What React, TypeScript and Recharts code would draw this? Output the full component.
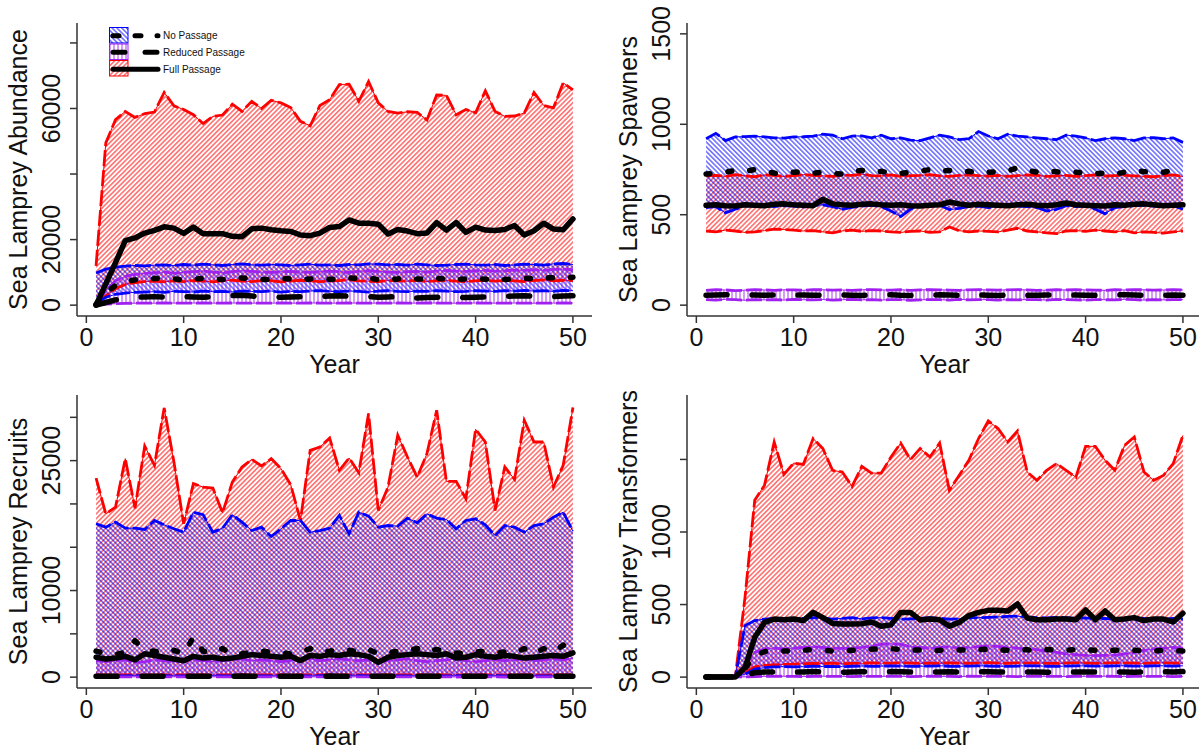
import React from "react";
import { ComposedChart, Area, Line, XAxis, YAxis } from "recharts";

const FONT = '"Liberation Sans", Arial, sans-serif';

const YEARS = [1, 2, 3, 4, 5, 6, 7, 8, 9, 10, 11, 12, 13, 14, 15, 16, 17, 18, 19, 20, 21, 22, 23, 24, 25, 26, 27, 28, 29, 30, 31, 32, 33, 34, 35, 36, 37, 38, 39, 40, 41, 42, 43, 44, 45, 46, 47, 48, 49, 50];
const X_TICKS = [0, 10, 20, 30, 40, 50];

// abundance
const abundFullHi = [12000, 49500, 56600, 59100, 57300, 58400, 58900, 64900, 60800, 59700, 58100, 55400, 57600, 58000, 61300, 59100, 62200, 60000, 62500, 61700, 60300, 56100, 54700, 60900, 62700, 67300, 67400, 62200, 68200, 61700, 59100, 58600, 59000, 58800, 56500, 64100, 64000, 58100, 59700, 58700, 65400, 59100, 57600, 57700, 58600, 64900, 60900, 60200, 67800, 65700];
const abundFullLo = [500, 2800, 5000, 6300, 6900, 7200, 7300, 7100, 7400, 7200, 7500, 7300, 7100, 7400, 7600, 7300, 7200, 7500, 7400, 7100, 7300, 7600, 7400, 7200, 7300, 7500, 7700, 7400, 7300, 7200, 7500, 7400, 7300, 7600, 7200, 7400, 7500, 7300, 7200, 7400, 7600, 7300, 7500, 7400, 7200, 7500, 7700, 7400, 7600, 7500];
const abundFullMed = [0, 6500, 13000, 19700, 20500, 22000, 22800, 23900, 23500, 21900, 23800, 21800, 21800, 21800, 21000, 20900, 23300, 23500, 23000, 22700, 22500, 21400, 21200, 22000, 23700, 24000, 26000, 25000, 25000, 24700, 21700, 23100, 22600, 21800, 22000, 25200, 22900, 25200, 22200, 23800, 22900, 22800, 23100, 24300, 21400, 22700, 25000, 23200, 23000, 26300];
const abundNoHi = [9800, 11000, 11600, 11900, 12100, 12000, 12200, 12300, 12100, 12400, 12200, 12500, 12300, 12100, 12400, 12600, 12300, 12200, 12400, 12300, 12100, 12300, 12500, 12200, 12300, 12100, 12400, 12300, 12600, 12500, 12300, 12400, 12200, 12500, 12300, 12100, 12200, 12400, 12500, 12300, 12200, 12400, 12100, 12300, 12500, 12400, 12200, 12600, 12700, 12400];
const abundNoLo = [600, 2400, 3300, 3700, 3900, 4000, 4100, 3900, 4200, 4100, 4000, 4300, 4100, 4200, 4000, 4300, 4200, 4100, 4300, 4000, 4200, 4100, 4300, 4400, 4200, 4100, 4300, 4200, 4000, 4300, 4400, 4200, 4100, 4300, 4200, 4400, 4300, 4100, 4200, 4400, 4300, 4200, 4400, 4300, 4500, 4300, 4400, 4200, 4500, 4400];
const abundNoMed = [300, 3800, 6000, 7200, 7700, 7900, 8100, 8300, 8000, 7700, 7900, 8200, 8000, 7800, 8100, 8300, 8000, 7800, 7900, 8100, 8000, 7800, 8000, 8200, 7900, 8000, 8300, 8100, 8200, 7800, 7700, 8000, 8200, 8000, 7900, 8200, 8000, 7800, 8000, 8100, 7900, 8000, 7800, 8000, 8200, 8100, 8300, 8400, 8200, 8500];
const abundRedHi = [400, 4500, 7500, 8800, 9400, 9700, 9900, 10100, 9800, 10000, 10200, 10400, 10100, 9900, 10200, 10500, 10300, 10100, 10000, 10200, 10300, 10100, 10000, 10200, 10400, 10200, 10000, 10300, 10500, 10300, 10100, 10000, 10200, 10300, 10100, 10400, 10600, 10400, 10300, 10500, 10600, 10400, 10500, 10700, 10600, 10800, 10600, 10900, 11000, 10800];
const abundRedLo = [0, 300, 450, 550, 600, 620, 600, 650, 630, 600, 640, 660, 620, 600, 650, 630, 610, 640, 620, 650, 600, 630, 660, 640, 610, 620, 650, 630, 600, 640, 620, 650, 610, 630, 660, 640, 620, 600, 630, 650, 640, 610, 620, 650, 630, 600, 640, 620, 650, 630];
const abundRedMed = [0, 800, 1600, 2100, 2400, 2500, 2600, 2500, 2400, 2600, 2500, 2400, 2600, 2700, 2900, 3000, 2800, 2500, 2600, 2400, 2500, 2600, 2400, 2600, 2800, 2900, 2700, 2500, 2600, 2400, 2500, 2600, 2300, 2200, 2300, 2400, 2500, 2400, 2300, 2400, 2500, 2600, 2700, 2800, 2900, 2700, 2500, 2600, 2800, 2900];

// spawners
const spawnNoHi = [920, 950, 910, 930, 932, 935, 930, 925, 924, 930, 931, 935, 945, 940, 920, 935, 936, 925, 940, 920, 925, 912, 910, 925, 940, 930, 915, 920, 960, 935, 920, 945, 935, 930, 925, 920, 915, 940, 935, 925, 910, 920, 925, 920, 910, 925, 926, 920, 925, 900];
const spawnNoLo = [540, 545, 510, 530, 550, 548, 552, 545, 550, 548, 542, 550, 555, 545, 530, 540, 548, 552, 545, 520, 490, 530, 548, 545, 552, 528, 535, 545, 548, 540, 545, 550, 548, 545, 540, 520, 530, 550, 545, 548, 530, 505, 540, 545, 550, 552, 548, 545, 550, 530];
const spawnNoMed = [725, 730, 735, 745, 740, 750, 742, 730, 728, 735, 738, 730, 735, 728, 725, 740, 745, 735, 740, 730, 728, 735, 740, 750, 740, 745, 735, 740, 730, 735, 738, 742, 760, 745, 735, 740, 738, 730, 735, 730, 728, 730, 725, 735, 745, 738, 732, 735, 745, 740];
const spawnFullHi = [715, 718, 712, 722, 715, 710, 720, 718, 712, 716, 722, 718, 715, 712, 720, 718, 725, 716, 715, 720, 712, 716, 718, 722, 715, 712, 718, 720, 716, 714, 718, 712, 716, 720, 718, 712, 715, 718, 712, 716, 720, 714, 716, 718, 715, 712, 710, 716, 720, 712];
const spawnFullLo = [410, 405, 415, 410, 402, 405, 412, 420, 418, 415, 410, 412, 405, 400, 410, 415, 408, 412, 410, 405, 402, 408, 410, 402, 405, 432, 412, 405, 410, 408, 405, 415, 425, 410, 405, 400, 395, 410, 412, 408, 415, 410, 405, 412, 400, 405, 402, 398, 405, 410];
const spawnFullMed = [552, 555, 550, 548, 555, 552, 550, 558, 560, 555, 552, 550, 585, 560, 555, 552, 558, 560, 555, 552, 555, 550, 548, 552, 555, 570, 560, 552, 558, 555, 552, 550, 555, 558, 552, 550, 555, 565, 555, 552, 550, 548, 555, 552, 558, 560, 555, 550, 552, 555];
const spawnRedHi = [82, 85, 84, 80, 83, 86, 84, 82, 85, 84, 82, 86, 85, 83, 84, 82, 85, 86, 84, 83, 85, 82, 84, 86, 85, 83, 82, 85, 86, 84, 83, 85, 86, 84, 82, 83, 85, 84, 86, 84, 83, 82, 85, 84, 86, 85, 83, 84, 85, 84];
const spawnRedLo = [30, 28, 32, 30, 27, 31, 29, 30, 28, 32, 30, 29, 31, 28, 30, 32, 29, 30, 28, 31, 30, 27, 29, 31, 30, 28, 32, 29, 30, 31, 28, 30, 29, 31, 30, 28, 32, 30, 29, 28, 31, 30, 29, 32, 30, 28, 31, 29, 30, 31];
const spawnRedMed = [55, 56, 58, 54, 55, 56, 55, 57, 54, 55, 56, 55, 54, 56, 57, 55, 54, 55, 56, 58, 55, 54, 56, 55, 57, 56, 54, 55, 56, 55, 54, 56, 55, 54, 55, 56, 55, 54, 56, 55, 54, 55, 56, 58, 56, 55, 54, 55, 56, 55];

// recruits
const recFullHi = [22990, 18860, 19630, 25230, 19510, 26690, 24460, 31090, 24840, 17710, 22340, 21950, 21830, 18980, 22520, 24260, 25150, 24380, 25230, 24070, 22220, 18090, 26190, 26570, 27620, 23880, 25300, 23610, 30440, 19250, 21950, 27930, 25420, 23100, 25810, 30820, 22600, 22600, 20600, 28620, 27150, 19250, 24260, 22840, 29660, 27150, 27150, 21950, 24460, 31130];
const recFullLo = [260, 240, 250, 270, 250, 240, 260, 250, 240, 270, 250, 260, 240, 250, 260, 250, 240, 270, 250, 260, 240, 250, 260, 250, 270, 240, 250, 260, 250, 240, 260, 250, 270, 250, 240, 260, 250, 240, 250, 260, 270, 250, 240, 260, 250, 250, 240, 260, 250, 270];
const recFullMed = [2300, 2100, 2200, 2400, 2000, 2700, 2500, 2300, 2100, 1900, 2400, 2200, 2300, 2100, 2200, 2400, 2600, 2500, 2400, 2300, 2400, 1900, 2500, 2400, 2600, 2500, 2700, 2600, 2400, 1700, 2300, 2500, 2600, 2700, 2600, 2500, 2700, 2200, 2300, 2600, 2400, 2300, 2500, 2400, 2200, 2300, 2400, 2500, 2400, 2800];
const recNoHi = [17710, 17320, 17900, 17200, 17200, 17050, 18090, 17590, 17130, 16740, 19050, 18750, 16740, 17200, 18750, 17900, 16930, 17320, 16240, 17130, 18090, 18090, 16740, 16930, 17200, 18670, 16550, 19050, 18590, 17320, 17510, 17440, 18360, 17820, 18860, 18360, 18200, 17130, 18090, 18280, 17590, 16350, 17510, 17320, 16740, 17510, 17710, 18470, 19050, 16850];
const recNoLo = [150, 160, 140, 150, 170, 150, 140, 160, 150, 140, 150, 160, 170, 150, 140, 150, 160, 150, 140, 150, 160, 150, 140, 160, 150, 150, 140, 160, 150, 170, 150, 140, 150, 160, 150, 140, 150, 160, 150, 140, 150, 160, 150, 150, 140, 160, 150, 140, 150, 160];
const recNoMed = [3000, 2700, 2600, 2900, 4200, 3100, 3000, 2800, 3100, 2700, 4600, 3000, 2800, 3300, 2600, 2700, 2900, 3000, 2900, 2800, 2700, 2900, 3300, 2800, 3000, 3200, 3100, 2900, 3200, 2700, 2800, 3000, 3100, 3300, 2900, 3200, 2900, 2800, 2700, 2900, 3000, 2800, 2900, 2800, 3300, 2700, 3300, 2900, 3700, 2900];
const recRedHi = [1900, 1800, 1900, 2000, 1700, 1800, 2000, 1900, 1800, 1900, 2000, 1900, 1800, 1900, 2000, 2100, 1900, 2000, 1900, 1800, 1900, 2000, 2100, 1900, 2000, 2100, 2000, 1900, 2000, 1800, 1900, 2000, 2100, 1900, 1800, 1900, 2000, 2100, 1900, 1800, 1900, 2000, 1900, 2000, 2100, 1900, 2000, 2100, 2000, 2200];
const recRedLo = [30, 40, 20, 30, 40, 30, 20, 30, 40, 30, 30, 20, 40, 30, 30, 40, 20, 30, 30, 40, 30, 20, 30, 40, 30, 30, 20, 40, 30, 30, 40, 30, 20, 30, 40, 30, 30, 20, 40, 30, 30, 40, 20, 30, 30, 40, 30, 20, 30, 40];
const recRedMed = [100, 110, 90, 100, 120, 100, 90, 110, 100, 90, 100, 110, 100, 90, 100, 120, 100, 90, 110, 100, 100, 90, 110, 100, 120, 100, 90, 100, 110, 100, 90, 100, 110, 100, 90, 110, 100, 100, 90, 110, 100, 120, 100, 90, 100, 110, 100, 90, 100, 110];

// transformers
const tfFullHi = [0, 0, 0, 0, 550, 1219, 1321, 1620, 1397, 1475, 1466, 1644, 1575, 1425, 1413, 1314, 1452, 1406, 1406, 1517, 1613, 1499, 1575, 1517, 1613, 1287, 1390, 1494, 1644, 1765, 1713, 1620, 1696, 1413, 1356, 1425, 1471, 1425, 1378, 1590, 1590, 1494, 1425, 1597, 1655, 1413, 1356, 1390, 1471, 1666];
const tfFullLo = [0, 0, 0, 0, 30, 70, 80, 85, 88, 90, 92, 95, 93, 96, 92, 94, 95, 98, 96, 95, 98, 96, 94, 97, 95, 98, 96, 95, 97, 99, 96, 95, 98, 96, 97, 95, 94, 96, 98, 97, 95, 96, 98, 97, 96, 95, 97, 98, 96, 95];
const tfFullMed = [0, 0, 0, 0, 66, 274, 377, 400, 395, 400, 390, 446, 410, 370, 366, 366, 368, 380, 350, 360, 446, 446, 394, 400, 395, 350, 377, 424, 446, 460, 460, 455, 504, 407, 395, 395, 400, 400, 395, 463, 395, 456, 395, 400, 410, 390, 400, 400, 380, 440];
const tfNoHi = [0, 0, 0, 0, 355, 390, 400, 405, 402, 400, 405, 410, 408, 400, 405, 410, 402, 408, 410, 405, 400, 402, 405, 410, 405, 400, 402, 408, 410, 412, 415, 418, 420, 415, 410, 408, 412, 410, 405, 408, 402, 405, 400, 405, 410, 405, 402, 400, 405, 400];
const tfNoLo = [0, 0, 0, 0, 20, 55, 65, 70, 72, 70, 72, 75, 73, 74, 72, 75, 76, 74, 75, 78, 76, 74, 75, 76, 78, 75, 74, 76, 78, 76, 75, 74, 76, 78, 77, 75, 74, 76, 78, 77, 76, 75, 77, 78, 76, 75, 77, 78, 76, 78];
const tfNoMed = [0, 0, 0, 0, 60, 150, 175, 185, 180, 182, 185, 190, 185, 180, 178, 185, 188, 192, 195, 196, 190, 185, 188, 182, 185, 190, 186, 188, 190, 192, 188, 185, 190, 188, 185, 190, 188, 185, 190, 188, 185, 182, 185, 188, 185, 182, 180, 185, 182, 180];
const tfRedHi = [0, 0, 0, 0, 80, 170, 195, 200, 195, 200, 205, 210, 205, 200, 198, 200, 205, 215, 228, 230, 225, 210, 205, 200, 205, 210, 200, 205, 210, 215, 212, 205, 200, 195, 190, 180, 170, 160, 155, 150, 148, 150, 152, 160, 170, 185, 195, 200, 205, 200];
const tfRedLo = [0, 0, 0, 0, 2, 4, 5, 5, 6, 5, 4, 5, 6, 5, 5, 4, 6, 5, 5, 6, 5, 4, 5, 6, 5, 5, 4, 6, 5, 5, 6, 5, 4, 5, 6, 5, 5, 4, 6, 5, 5, 6, 5, 4, 5, 6, 5, 5, 4, 5];
const tfRedMed = [0, 0, 0, 0, 15, 30, 35, 36, 35, 34, 36, 38, 36, 35, 34, 36, 37, 36, 35, 38, 37, 36, 35, 34, 36, 37, 35, 36, 38, 37, 36, 35, 34, 36, 35, 34, 36, 37, 35, 36, 35, 34, 36, 35, 34, 36, 35, 37, 36, 38];

const BLUE = "#0000ff";
const RED = "#ff0000";
const PURPLE = "#a020f0";

const W = 600;
const H = 379;
const PLOT_L = 77;
const PLOT_R = 592;
const PLOT_T = 23;
const PLOT_B = 316;

const PANELS = [
  { id: "ab", title: "Sea Lamprey Abundance", left: 0, top: 0, legend: true,
    domain: [-3311, 86081], ticks: [0, 20000, 40000, 60000, 80000], labeled: [0, 20000, 60000],
    noLo: abundNoLo, noHi: abundNoHi, noMed: abundNoMed, redLo: abundRedLo, redHi: abundRedHi, redMed: abundRedMed,
    fullLo: abundFullLo, fullHi: abundFullHi, fullMed: abundFullMed },
  { id: "sp", title: "Sea Lamprey Spawners", left: 609.7, top: 0, legend: false,
    domain: [-60, 1560], ticks: [0, 500, 1000, 1500], labeled: [0, 500, 1000, 1500],
    noLo: spawnNoLo, noHi: spawnNoHi, noMed: spawnNoMed, redLo: spawnRedLo, redHi: spawnRedHi, redMed: spawnRedMed,
    fullLo: spawnFullLo, fullHi: spawnFullHi, fullMed: spawnFullMed },
  { id: "re", title: "Sea Lamprey Recruits", left: 0, top: 372, legend: false,
    domain: [-1253, 32578], ticks: [0, 5000, 10000, 15000, 20000, 25000, 30000], labeled: [0, 10000, 25000],
    noLo: recNoLo, noHi: recNoHi, noMed: recNoMed, redLo: recRedLo, redHi: recRedHi, redMed: recRedMed,
    fullLo: recFullLo, fullHi: recFullHi, fullMed: recFullMed },
  { id: "tr", title: "Sea Lamprey Transformers", left: 609.7, top: 372, legend: false,
    domain: [-75, 1944], ticks: [0, 500, 1000, 1500], labeled: [0, 500, 1000],
    noLo: tfNoLo, noHi: tfNoHi, noMed: tfNoMed, redLo: tfRedLo, redHi: tfRedHi, redMed: tfRedMed,
    fullLo: tfFullLo, fullHi: tfFullHi, fullMed: tfFullMed },
];

function buildRows(p) {
  return YEARS.map((year, i) => ({
    year,
    np: [p.noLo[i], p.noHi[i]],
    rp: [p.redLo[i], p.redHi[i]],
    fp: [p.fullLo[i], p.fullHi[i]],
    noLo: p.noLo[i], noHi: p.noHi[i], noMed: p.noMed[i],
    redLo: p.redLo[i], redHi: p.redHi[i], redMed: p.redMed[i],
    fullLo: p.fullLo[i], fullHi: p.fullHi[i], fullMed: p.fullMed[i],
  }));
}

function Hatches({ id }) {
  return (
    <defs>
      <pattern id={`red-${id}`} width={3.4} height={10} patternUnits="userSpaceOnUse" patternTransform="rotate(45)">
        <line x1={1.7} y1={0} x2={1.7} y2={10} stroke={RED} strokeWidth={0.9} />
      </pattern>
      <pattern id={`blue-${id}`} width={3.4} height={10} patternUnits="userSpaceOnUse" patternTransform="rotate(-45)">
        <line x1={1.7} y1={0} x2={1.7} y2={10} stroke={BLUE} strokeWidth={0.9} />
      </pattern>
      <pattern id={`purple-${id}`} width={4} height={10} patternUnits="userSpaceOnUse">
        <line x1={2} y1={0} x2={2} y2={10} stroke={PURPLE} strokeWidth={0.9} />
      </pattern>
    </defs>
  );
}

function XTick(props) {
  const { x, payload } = props;
  return (
    <text x={x} y={345.5} textAnchor="middle" fontSize={25} fontFamily={FONT} fill="#111">
      {payload.value}
    </text>
  );
}

function YTick(props) {
  const { y, payload, labeled } = props;
  if (!labeled.includes(payload.value)) return <g />;
  return (
    <text x={60.5} y={y} transform={`rotate(-90 60.5 ${y})`} textAnchor="middle" fontSize={25} fontFamily={FONT} fill="#111">
      {payload.value}
    </text>
  );
}

function LegendBlock() {
  const rows = [
    { label: "No Passage", y: 35.7, fill: "url(#blue-lg)", stroke: BLUE, dash: "6 16", boxY: 27.5 },
    { label: "Reduced Passage", y: 52.3, fill: "url(#purple-lg)", stroke: PURPLE, dash: "12 20", boxY: 44 },
    { label: "Full Passage", y: 69.3, fill: "url(#red-lg)", stroke: RED, dash: undefined, boxY: 60.5 },
  ];
  return (
    <g>
      <Hatches id="lg" />
      {rows.map((r) => (
        <rect key={r.label} x={109.5} y={r.boxY} width={18.5} height={15.5} fill={r.fill} stroke={r.stroke} strokeWidth={1} />
      ))}
      {rows.map((r) => (
        <g key={r.label + "l"}>
          <line x1={113} y1={r.y} x2={158} y2={r.y} stroke="#000" strokeWidth={5} strokeLinecap="round" strokeDasharray={r.dash} />
          <text x={163} y={r.y + 3.6} fontSize={10} fontFamily={FONT} fill="#111">{r.label}</text>
        </g>
      ))}
    </g>
  );
}

function PanelChart({ p }) {
  const rows = buildRows(p);
  const medStyle = { stroke: "#000", strokeWidth: 5.5, dot: false, activeDot: false, isAnimationActive: false, strokeLinecap: "round", strokeLinejoin: "round", type: "linear" };
  const bandLine = (color) => ({ stroke: color, strokeWidth: 2.8, strokeDasharray: "16 4", dot: false, activeDot: false, isAnimationActive: false, type: "linear" });
  const midX = (PLOT_L + PLOT_R) / 2;
  const midY = (PLOT_T + PLOT_B) / 2;
  return (
    <div style={{ position: "absolute", left: p.left, top: p.top, width: W, height: H }}>
      <ComposedChart width={W} height={H} data={rows} margin={{ top: PLOT_T, right: W - PLOT_R, bottom: 0, left: 0 }}>
        <Hatches id={p.id} />
        <XAxis
          dataKey="year"
          type="number"
          domain={[-0.96, 51.96]}
          ticks={X_TICKS}
          interval={0}
          allowDataOverflow
          height={H - PLOT_B}
          tickSize={7}
          axisLine={{ stroke: "#333", strokeWidth: 1.5 }}
          tickLine={{ stroke: "#333", strokeWidth: 1.5 }}
          tick={<XTick />}
        />
        <YAxis
          type="number"
          domain={p.domain}
          ticks={p.ticks}
          interval={0}
          allowDataOverflow
          width={PLOT_L}
          tickSize={7}
          axisLine={{ stroke: "#333", strokeWidth: 1.5 }}
          tickLine={{ stroke: "#333", strokeWidth: 1.5 }}
          tick={(tp) => <YTick {...tp} labeled={p.labeled} />}
        />
        <Area type="linear" dataKey="fp" fill={`url(#red-${p.id})`} fillOpacity={1} stroke={RED} strokeWidth={1} dot={false} activeDot={false} isAnimationActive={false} />
        <Area type="linear" dataKey="np" fill={`url(#blue-${p.id})`} fillOpacity={1} stroke={BLUE} strokeWidth={1} dot={false} activeDot={false} isAnimationActive={false} />
        <Area type="linear" dataKey="rp" fill={`url(#purple-${p.id})`} fillOpacity={1} stroke={PURPLE} strokeWidth={1} dot={false} activeDot={false} isAnimationActive={false} />
        <Line dataKey="fullHi" {...bandLine(RED)} />
        <Line dataKey="fullLo" {...bandLine(RED)} />
        <Line dataKey="noHi" {...bandLine(BLUE)} />
        <Line dataKey="noLo" {...bandLine(BLUE)} />
        <Line dataKey="redHi" {...bandLine(PURPLE)} />
        <Line dataKey="redLo" {...bandLine(PURPLE)} />
        <Line dataKey="redMed" {...medStyle} strokeDasharray="21 25" />
        <Line dataKey="noMed" {...medStyle} strokeDasharray="4 18" />
        <Line dataKey="fullMed" {...medStyle} />
      </ComposedChart>
      <svg width={W} height={H} style={{ position: "absolute", left: 0, top: 0, pointerEvents: "none" }}>
        <text x={27} y={midY} transform={`rotate(-90 27 ${midY})`} textAnchor="middle" fontSize={25} fontFamily={FONT} fill="#111">
          {p.title}
        </text>
        <text x={midX} y={373} textAnchor="middle" fontSize={25} fontFamily={FONT} fill="#111">
          Year
        </text>
        {p.legend ? <LegendBlock /> : null}
      </svg>
    </div>
  );
}

export default function App() {
  return (
    <div style={{ position: "absolute", left: 0, top: 0, width: 1199, height: 751, overflow: "hidden", background: "#fff", fontFamily: FONT }}>
      {PANELS.map((p) => (
        <PanelChart key={p.id} p={p} />
      ))}
    </div>
  );
}
